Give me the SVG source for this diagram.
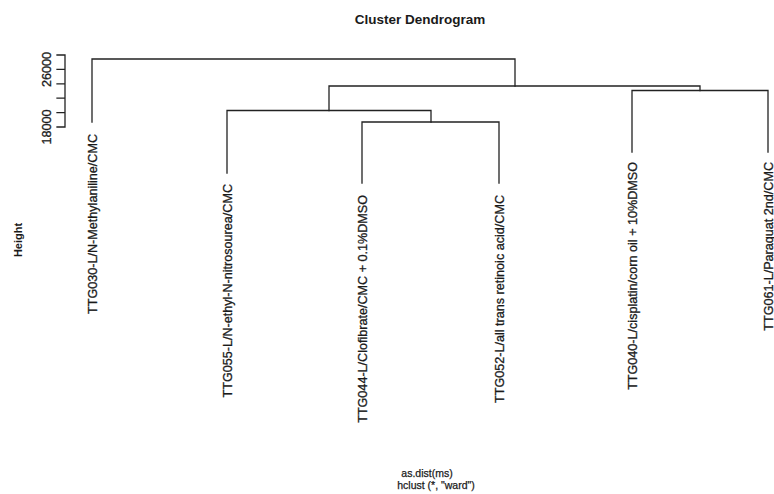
<svg xmlns="http://www.w3.org/2000/svg" width="774" height="494" viewBox="0 0 774 494">
<style>
.bg{fill:#ffffff}
.ln{stroke:#222222;stroke-width:1.3;fill:none;stroke-linecap:square}
.lab{font-family:"Liberation Sans",Arial,sans-serif;font-size:12.6px;fill:#1a1a1a;stroke:#1a1a1a;stroke-width:0.3}
.title{font-family:"Liberation Sans",Arial,sans-serif;font-size:13.5px;font-weight:bold;fill:#1a1a1a}
.sub{font-family:"Liberation Sans",Arial,sans-serif;font-size:10.5px;fill:#1a1a1a;stroke:#1a1a1a;stroke-width:0.25}
.ylab{font-family:"Liberation Sans",Arial,sans-serif;font-size:11px;font-weight:bold;fill:#1a1a1a}
</style>
<rect class="bg" x="0" y="0" width="774" height="494"/>
<text class="title" x="420" y="24" text-anchor="middle">Cluster Dendrogram</text>
<g id="axis">
<path class="ln" d="M65 55V127M57 55H65M57 69.4H65M57 83.8H65M57 98.2H65M57 112.6H65M57 127H65"/>
<text class="lab" transform="translate(51,69.4) rotate(-90)" text-anchor="middle">26000</text>
<text class="lab" transform="translate(51,127) rotate(-90)" text-anchor="middle">18000</text>
<text class="ylab" transform="translate(22,240) rotate(-90)" text-anchor="middle">Height</text>
</g>
<g id="connectors">
<path class="ln" d="M92 122V59H515V86"/>
<path class="ln" d="M329 110.5V86H700V90.5"/>
<path class="ln" d="M227 173V110.5H431V122"/>
<path class="ln" d="M362 183V122H499V183"/>
<path class="ln" d="M632 152V90.5H768V152"/>
</g>
<g id="leaf-TTG030">
<text class="lab" transform="translate(96.5,134) rotate(-90)" text-anchor="end">TTG030-L/N-Methylaniline/CMC</text>
</g>
<g id="leaf-TTG055">
<text class="lab" transform="translate(231.5,184) rotate(-90)" text-anchor="end">TTG055-L/N-ethyl-N-nitrosourea/CMC</text>
</g>
<g id="leaf-TTG044">
<text class="lab" transform="translate(366.5,195) rotate(-90)" text-anchor="end">TTG044-L/Clofibrate/CMC + 0.1%DMSO</text>
</g>
<g id="leaf-TTG052">
<text class="lab" transform="translate(503.5,195) rotate(-90)" text-anchor="end">TTG052-L/all trans retinoic acid/CMC</text>
</g>
<g id="leaf-TTG040">
<text class="lab" transform="translate(636.5,162) rotate(-90)" text-anchor="end">TTG040-L/cisplatin/corn oil + 10%DMSO</text>
</g>
<g id="leaf-TTG061">
<text class="lab" transform="translate(772.5,162) rotate(-90)" text-anchor="end">TTG061-L/Paraquat 2nd/CMC</text>
</g>
<text class="sub" x="427" y="477" text-anchor="middle">as.dist(ms)</text>
<text class="sub" x="436" y="489" text-anchor="middle">hclust (*, "ward")</text>
</svg>
